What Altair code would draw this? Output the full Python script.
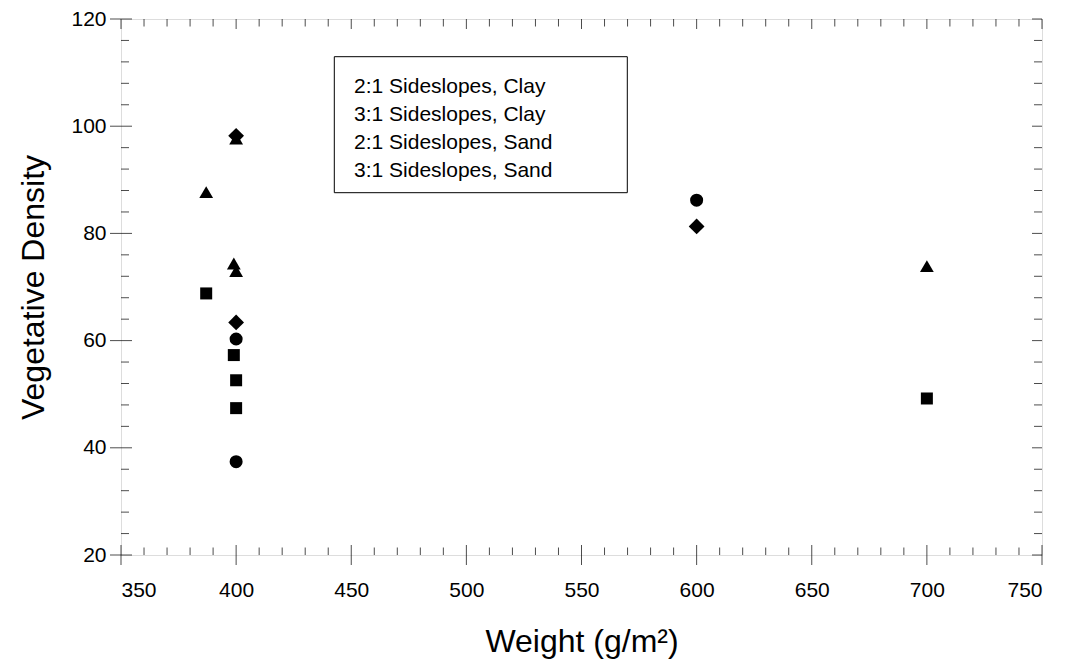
import altair as alt
import pandas as pd

# ---- data ----
series_names = ["2:1 Sideslopes, Clay", "3:1 Sideslopes, Clay",
                "2:1 Sideslopes, Sand", "3:1 Sideslopes, Sand"]
series_shapes = ["circle", "triangle-up", "square", "diamond"]
series_sizes = [170, 190, 144, 250]

clay21_x = [400, 400, 600]
clay21_y = [60.3, 37.4, 86.2]
clay31_x = [387, 400, 399, 400, 700]
clay31_y = [87.7, 97.7, 74.4, 73.0, 73.9]
sand21_x = [387, 399, 400, 400, 700]
sand21_y = [68.8, 57.3, 52.6, 47.4, 49.2]
sand31_x = [400, 400, 600]
sand31_y = [98.2, 63.4, 81.3]

x_major = [350, 400, 450, 500, 550, 600, 650, 700, 750]
x_minor = [v for v in range(350, 751, 10) if v % 50 != 0]
y_major = [20, 40, 60, 80, 100, 120]
y_minor = [v for v in range(20, 121, 4) if v % 20 != 0]

W, H = 921, 536
FONT = "Liberation Sans"

xs = alt.Scale(domain=[350, 750], nice=False, zero=False)
ys = alt.Scale(domain=[20, 120], nice=False, zero=False)
shape_scale = alt.Scale(domain=series_names, range=series_shapes)

x_axis = alt.Axis(values=x_major, ticks=False, tickSize=0, domain=False,
                  grid=False, labelFontSize=21, labelPadding=24,
                  labelFont=FONT, labelColor="black",
                  title="Weight (g/m²)", titleFontSize=32,
                  titleFont=FONT, titleFontWeight="normal",
                  titleColor="black", titlePadding=26)
y_axis = alt.Axis(values=y_major, ticks=False, tickSize=0, domain=False,
                  grid=False, labelFontSize=21, labelPadding=15,
                  labelFont=FONT, labelColor="black",
                  title="Vegetative Density", titleFontSize=32,
                  titleFont=FONT, titleFontWeight="normal",
                  titleColor="black", titlePadding=20)
legend = alt.Legend(orient="none", legendX=212, legendY=57,
                    title=None, symbolSize=1, symbolOpacity=0,
                    symbolStrokeWidth=0, labelOffset=0,
                    labelFontSize=21, labelFont=FONT,
                    labelColor="black", rowPadding=6,
                    padding=0, labelLimit=400)

series_xs = [clay21_x, clay31_x, sand21_x, sand31_x]
series_ys = [clay21_y, clay31_y, sand21_y, sand31_y]

point_layers = []
for i, (name, sx, sy) in enumerate(zip(series_names, series_xs, series_ys)):
    d = pd.DataFrame({"Weight": sx, "Density": sy, "Series": [name] * len(sx)})
    point_layers.append(
        alt.Chart(d).mark_point(filled=True, opacity=1, color="black",
                                size=series_sizes[i]).encode(
            x=alt.X("Weight:Q", scale=xs, axis=x_axis),
            y=alt.Y("Density:Q", scale=ys, axis=y_axis),
            shape=alt.Shape("Series:N", scale=shape_scale, legend=legend),
        )
    )

# legend frame
box = alt.Chart(pd.DataFrame({"k": [0]})).mark_rect(
    fill="white", stroke="black", strokeWidth=1
).encode(x=alt.value(213.3), x2=alt.value(506.3),
         y=alt.value(37.7), y2=alt.value(173.7))

# tick marks
dxM = pd.DataFrame({"Weight": x_major})
dxm = pd.DataFrame({"Weight": x_minor})
dyM = pd.DataFrame({"Density": y_major})
dym = pd.DataFrame({"Density": y_minor})

def xt(d, ypix, size):
    return alt.Chart(d).mark_tick(orient="vertical", color="black",
                                  thickness=1, size=size).encode(
        x=alt.X("Weight:Q", scale=xs), y=alt.value(ypix))

def yt(d, xpix, size):
    return alt.Chart(d).mark_tick(orient="horizontal", color="black",
                                  thickness=1, size=size).encode(
        y=alt.Y("Density:Q", scale=ys), x=alt.value(xpix))

ticks = [
    xt(dxM, H, 20), xt(dxm, H - 3.75, 7.5),
    xt(dxM, 5, 10), xt(dxm, 3.75, 7.5),
    yt(dyM, 0, 22), yt(dym, 4, 8),
    yt(dyM, W - 5, 10), yt(dym, W - 4, 8),
]

chart = alt.layer(box, *ticks, *point_layers).properties(
    width=W, height=H,
    autosize=alt.AutoSizeParams(type="none"),
    padding={"left": 113, "top": 11, "right": 17, "bottom": 109},
).configure_view(stroke="black", strokeWidth=1).configure(background="white")

chart.save("out.html", embed_options={"renderer": "svg", "actions": False})
